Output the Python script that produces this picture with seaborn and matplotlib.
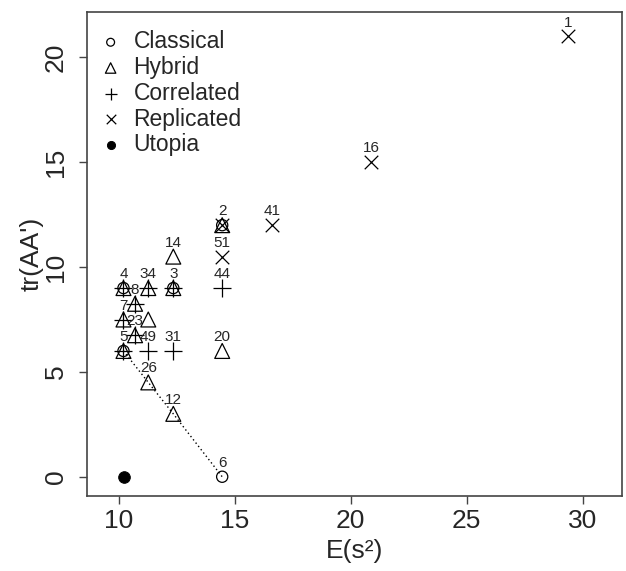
import matplotlib
matplotlib.use('Agg')
import matplotlib.pyplot as plt
import seaborn as sns
import pandas as pd

### DATA ###
classical_x = [10.19, 12.34, 10.19, 14.45, 14.45]
classical_y = [9, 9, 6, 0, 12]

hybrid_x = [10.19, 11.26, 12.34, 10.69, 10.19, 11.26, 10.69, 10.19, 11.26, 12.34, 12.34, 14.45, 14.45]
hybrid_y = [9, 9, 9, 8.25, 7.5, 7.5, 6.75, 6, 4.5, 3, 10.5, 6, 12]

correlated_x = [10.19, 11.26, 12.34, 10.69, 10.19, 10.69, 10.19, 11.26, 12.34, 14.45]
correlated_y = [9, 9, 9, 8.25, 7.5, 6.75, 6, 6, 6, 9]

replicated_x = [14.45, 14.45, 16.61, 20.89, 29.37]
replicated_y = [12, 10.5, 12, 15, 21]

utopia_x = [10.2]
utopia_y = [0]

# design numbers written above the points
label_text = ['1', '16', '41', '2', '51', '44', '20', '14', '4', '34', '3', '8', '7',
              '23', '5', '49', '31', '26', '12', '6']
label_x = [29.37, 20.89, 16.61, 14.45, 14.45, 14.45, 14.45, 12.34, 10.19, 11.26, 12.34, 10.69, 10.19,
           10.69, 10.19, 11.26, 12.34, 11.26, 12.34, 14.45]
label_y = [21, 15, 12, 12, 10.5, 9, 6, 10.5, 9, 9, 9, 8.25, 7.5,
           6.75, 6, 6, 6, 4.5, 3, 0]

# dotted Pareto front
front_x = [10.19, 11.26, 12.34, 14.45]
front_y = [6, 4.5, 3, 0]

### PLOT ###
sns.set_style('ticks')
plt.rcParams['font.family'] = ['Liberation Sans', 'DejaVu Sans']

fig = plt.figure(figsize=(6.26, 5.71), dpi=100)
ax = fig.add_axes([0.1395, 0.1313, 0.854, 0.847])

sns.lineplot(x=front_x, y=front_y, ax=ax, color='black', linestyle=(0, (1, 2)),
             linewidth=1.0, sort=False, estimator=None)

groups = [
    ('Classical', classical_x, classical_y, dict(marker='o', s=65, facecolor='none', edgecolor='black', linewidth=0.9)),
    ('Hybrid', hybrid_x, hybrid_y, dict(marker='^', s=115, facecolor='none', edgecolor='black', linewidth=0.9)),
    ('Correlated', correlated_x, correlated_y, dict(marker='+', s=160, color='black', linewidth=0.9)),
    ('Replicated', replicated_x, replicated_y, dict(marker='x', s=95, color='black', linewidth=0.9)),
    ('Utopia', utopia_x, utopia_y, dict(marker='o', s=70, color='black', edgecolor='black')),
]
for name, gx, gy, kw in groups:
    df = pd.DataFrame({'x': gx, 'y': gy})
    sns.scatterplot(data=df, x='x', y='y', ax=ax, label=name, **kw)

for t, lx, ly in zip(label_text, label_x, label_y):
    ax.annotate(t, (lx, ly), xytext=(0, 5), textcoords='offset points',
                ha='center', va='bottom', fontsize=11)

ax.set_xlim(8.63, 31.7)
ax.set_ylim(-0.92, 22.15)
ax.set_xticks([10, 15, 20, 25, 30])
ax.set_yticks([0, 5, 10, 15, 20])
ax.tick_params(axis='both', labelsize=19, length=6, width=1, color='#444444')
ax.tick_params(axis='y', pad=8)
for lab in ax.get_yticklabels():
    lab.set_rotation(90)
    lab.set_va('center')
for sp in ax.spines.values():
    sp.set_color('#444444')
    sp.set_linewidth(1.2)

ax.set_xlabel('E(s²)', fontsize=19, labelpad=4)
ax.set_ylabel("tr(AA')", fontsize=19, labelpad=0)

leg = ax.legend(loc='upper left', bbox_to_anchor=(0.005, 0.982), frameon=False,
                fontsize=16.5, handletextpad=0.5, labelspacing=0.12, borderaxespad=0,
                markerscale=0.7, handlelength=1.0)

plt.savefig('out.png', dpi=100)
